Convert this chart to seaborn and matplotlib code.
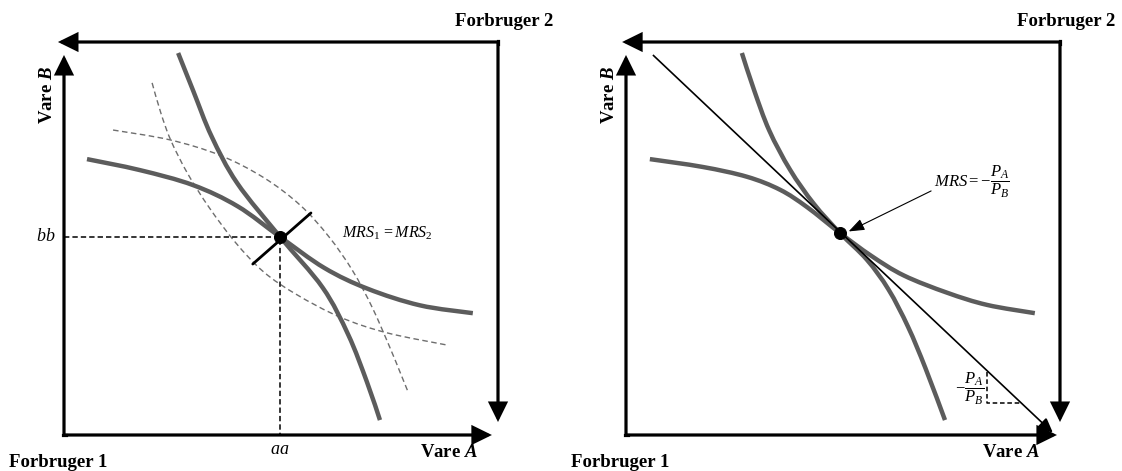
import numpy as np
import matplotlib
matplotlib.use("Agg")
import matplotlib.pyplot as plt
from matplotlib.path import Path
from matplotlib.patches import PathPatch
import seaborn as sns
import pandas as pd

sns.set_theme(style="white")
plt.rcParams['font.family'] = ['Liberation Serif', 'DejaVu Serif']
plt.rcParams['text.color'] = 'black'
plt.rcParams['mathtext.fontset'] = 'custom'
plt.rcParams['mathtext.rm'] = 'Liberation Serif'
plt.rcParams['mathtext.it'] = 'Liberation Serif:italic'
plt.rcParams['mathtext.bf'] = 'Liberation Serif:italic:bold'

# ---------------- data (box coordinates 0..100) -------------
# left panel: Edgeworth box with contract point
L_flat_x = [5.3, 17.5, 29.7, 40.0, 49.8, 60.0, 70.0, 82.0, 94.2]
L_flat_y = [70.2, 67.4, 63.6, 58.2, 50.4, 42.5, 37.2, 33.0, 31.0]
L_steep_x = [26.3, 29.8, 34.0, 39.9, 49.8, 59.6, 65.5, 69.8, 72.8]
L_steep_y = [97.2, 87.5, 76.0, 64.1, 50.4, 37.5, 25.5, 13.5, 3.8]
L_dash2_x = [11.3, 24.4, 35.9, 46.0, 54.4, 61.0, 66.5, 71.0, 75.0, 77.5, 79.3]
L_dash2_y = [77.6, 75.1, 71.2, 65.5, 58.5, 50.5, 41.8, 32.5, 22.5, 15.8, 10.9]
L_dash1_x = [20.3, 22.3, 24.6, 28.5, 33.5, 39.5, 46.0, 53.5, 63.6, 74.4, 88.2]
L_dash1_y = [89.6, 82.0, 75.0, 66.5, 57.8, 49.0, 41.5, 35.8, 30.0, 26.0, 22.9]
L_point = (49.8, 50.4)
L_tangent_x = [43.5, 56.9]
L_tangent_y = [43.5, 56.5]

# right panel: tangency with price line
R_flat_x = [5.5, 17.7, 27.9, 35.5, 41.7, 49.3, 56.5, 64.0, 74.0, 83.2, 94.2]
R_flat_y = [70.2, 68.2, 65.7, 62.4, 58.0, 51.4, 45.6, 40.6, 36.2, 33.1, 31.0]
R_steep_x = [26.7, 29.5, 33.0, 37.8, 43.3, 49.3, 55.5, 60.5, 65.0, 69.0, 73.5]
R_steep_y = [97.2, 87.8, 77.5, 67.5, 58.8, 51.4, 44.6, 37.0, 27.5, 17.0, 3.8]
R_point = (49.3, 51.4)
R_budget_x = [6.2, 98.4]
R_budget_y = [96.7, 0.5]
R_tri_x = [83.2, 83.2, 91.0]
R_tri_y = [16.0, 8.1, 8.1]

# ---------------- helpers -------------
CURVE = "#5c5c5c"
DASH = "#6e6e6e"


def smooth(ax, xs, ys, **kw):
    pts = np.column_stack([xs, ys]).astype(float)
    n = len(pts)
    verts = [pts[0]]
    codes = [Path.MOVETO]
    for i in range(n - 1):
        p0 = pts[max(i - 1, 0)]
        p1 = pts[i]
        p2 = pts[i + 1]
        p3 = pts[min(i + 2, n - 1)]
        c1 = p1 + (p2 - p0) / 6.0
        c2 = p2 - (p3 - p1) / 6.0
        verts += [c1, c2, p2]
        codes += [Path.CURVE4] * 3
    patch = PathPatch(Path(verts, codes), fill=False, clip_on=False, **kw)
    ax.add_patch(patch)


def arrow(ax, start, tip, lw=2.3, hl=0.65, hw=0.32, ms=17):
    ax.annotate("", xy=tip, xytext=start,
                arrowprops=dict(arrowstyle=f"-|>,head_length={hl},head_width={hw}",
                                lw=lw, color="black", mutation_scale=ms,
                                shrinkA=0, shrinkB=0, joinstyle="miter",
                                capstyle="butt"),
                annotation_clip=False)


def frame(ax, htip, vtip, toptip, righttip):
    arrow(ax, (0, 0), (0, vtip))
    arrow(ax, (0, 0), (htip, 0))
    arrow(ax, (100, 100), (toptip, 100))
    arrow(ax, (100, 100), (100, righttip))
    ax.plot([-0.25, 0.4], [0, 0], color="black", lw=2.3, solid_capstyle="projecting",
            clip_on=False)
    ax.plot([100, 100], [99.6, 100.25], color="black", lw=2.3,
            solid_capstyle="projecting", clip_on=False)
    bold = dict(fontsize=13.5, fontweight="bold", color="black")
    ax.text(112.7, 105.1, "Forbruger 2", ha="right", va="center", **bold)
    ax.text(-12.6, -6.9, "Forbruger 1", ha="left", va="center", **bold)
    ax.text(95.4, -4.4, r"Vare $\mathbf{A}$", ha="right", va="center", **bold)
    ax.text(-3.9, 86.5, r"Vare $\mathbf{B}$", ha="center", va="center",
            rotation=90, **bold)


fig = plt.figure(figsize=(11.22, 4.71), dpi=100)
axL = fig.add_axes([64 / 1122, 36 / 471, 434 / 1122, 393 / 471])
axR = fig.add_axes([626 / 1122, 36 / 471, 434 / 1122, 393 / 471])
for ax in (axL, axR):
    ax.set_xlim(0, 100)
    ax.set_ylim(0, 100)
    ax.axis("off")

# ---------------- left panel -------------
frame(axL, 98.6, 96.7, -1.4, 3.3)
smooth(axL, L_dash2_x, L_dash2_y, ec=DASH, lw=1.0, linestyle=(0, (4, 2.5)))
smooth(axL, L_dash1_x, L_dash1_y, ec=DASH, lw=1.0, linestyle=(0, (4, 2.5)))
smooth(axL, L_flat_x, L_flat_y, ec=CURVE, lw=3.2, capstyle="butt")
smooth(axL, L_steep_x, L_steep_y, ec=CURVE, lw=3.2, capstyle="butt")
guide = pd.DataFrame({"x": [0, L_point[0], L_point[0]],
                      "y": [L_point[1], L_point[1], 0]})
sns.lineplot(data=guide, x="x", y="y", sort=False, estimator=None, ax=axL,
             color="black", lw=1.1, linestyle=(0, (3.5, 2)), clip_on=False)
sns.lineplot(x=L_tangent_x, y=L_tangent_y, ax=axL, color="black", lw=2.0,
             sort=False, estimator=None, clip_on=False)
sns.scatterplot(x=[L_point[0]], y=[L_point[1]], ax=axL, color="black", s=75,
                edgecolor="black", zorder=5, clip_on=False)
axL.text(-2.0, L_point[1], r"$bb$", ha="right", va="center", fontsize=13)
axL.text(L_point[0], -1.5, r"$aa$", ha="center", va="top", fontsize=13)
axL.text(64.0, 51.3, r"$MRS_{1}\,=MRS_{2}$", ha="left", va="center", fontsize=11.5)

# ---------------- right panel -------------
frame(axR, 99.3, 96.7, -0.9, 3.3)
smooth(axR, R_flat_x, R_flat_y, ec=CURVE, lw=3.2, capstyle="butt")
smooth(axR, R_steep_x, R_steep_y, ec=CURVE, lw=3.2, capstyle="butt")
arrow(axR, (R_budget_x[0], R_budget_y[0]), (R_budget_x[1], R_budget_y[1]),
      lw=1.2, hl=0.7, hw=0.3, ms=13)
sns.lineplot(x=R_tri_x, y=R_tri_y, ax=axR, color="black", lw=1.1,
             linestyle=(0, (3, 1.8)), sort=False, estimator=None, clip_on=False)
sns.scatterplot(x=[R_point[0]], y=[R_point[1]], ax=axR, color="black", s=75,
                edgecolor="black", zorder=5, clip_on=False)
axR.text(71.0, 64.4, r"$MRS=-\dfrac{P_A}{P_B}$", ha="left", va="center", fontsize=12)
axR.annotate("", xy=(51.3, 51.8), xytext=(70.3, 62.1),
             arrowprops=dict(arrowstyle="-|>,head_length=0.8,head_width=0.3",
                             lw=0.8, color="black", mutation_scale=12,
                             shrinkA=0, shrinkB=0))
axR.text(82.6, 11.6, r"$-\dfrac{P_A}{P_B}$", ha="right", va="center", fontsize=12)

fig.savefig("out.png", dpi=100)
